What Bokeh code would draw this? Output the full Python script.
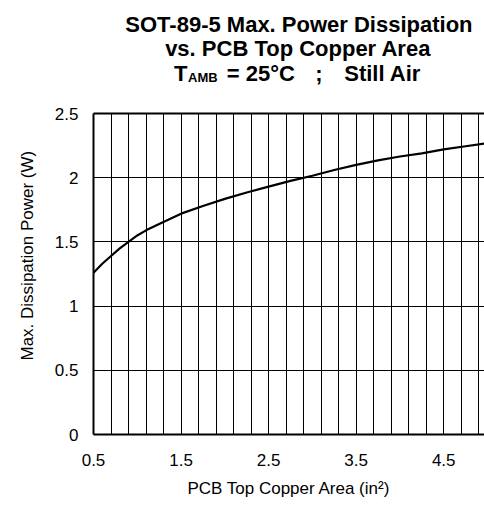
from bokeh.plotting import figure
from bokeh.models import Range1d, FixedTicker, LinearAxis, Title
from bokeh.layouts import column
from bokeh.core.properties import value
from bokeh.embed import file_html
from bokeh.resources import INLINE

# ---- data ----
area = [0.5, 0.6, 0.7, 0.8, 0.9, 1.0, 1.1, 1.25, 1.5, 1.75, 2.0, 2.25, 2.5,
        2.75, 3.0, 3.25, 3.5, 3.75, 4.0, 4.25, 4.5, 4.75, 5.0]
power = [1.26, 1.33, 1.39, 1.45, 1.50, 1.55, 1.59, 1.64, 1.72, 1.78, 1.835,
         1.885, 1.93, 1.975, 2.015, 2.06, 2.10, 2.135, 2.165, 2.19, 2.22,
         2.245, 2.27]
x_ticks = [0.5, 1.5, 2.5, 3.5, 4.5]
x_minor = [0.7, 0.9, 1.1, 1.3, 1.7, 1.9, 2.1, 2.3, 2.7, 2.9, 3.1, 3.3,
           3.7, 3.9, 4.1, 4.3, 4.7, 4.9]
y_ticks = [0, 0.5, 1, 1.5, 2, 2.5]

title_lines = ["SOT-89-5 Max. Power Dissipation", "vs. PCB Top Copper Area"]
title_line3 = ["T", "= 25\u00b0C", ";", "Still Air"]
title_sub = "AMB"
x_label = "PCB Top Copper Area (in\u00b2)"
y_label = "Max. Dissipation Power (W)"

FONT = "Liberation Sans"
TITLE_H = 100
LEFT = 91

# ---- title block (page pixel coordinates, y downwards) ----
t = figure(width=484, height=TITLE_H, output_backend="svg", toolbar_location=None,
           x_range=Range1d(LEFT, 484), y_range=Range1d(TITLE_H, 0),
           x_axis_type=None, y_axis_type=None,
           min_border_left=LEFT, min_border_right=0,
           min_border_top=0, min_border_bottom=0)
t.title.visible = False
t.outline_line_color = None
t.grid.visible = False
t.text(x=[123, 163], y=[24, 48], text=title_lines, text_font=value(FONT),
       text_font_size=value("22px"), text_font_style="bold",
       text_align="left", text_baseline="alphabetic", text_color="black")
t.text(x=[172, 225, 314, 343], y=[73, 73, 73, 73], text=title_line3,
       text_font=value(FONT), text_font_size=value("22px"),
       text_font_style="bold", text_align="left",
       text_baseline="alphabetic", text_color="black")
t.text(x=[186], y=[77], text=[title_sub], text_font=value(FONT),
       text_font_size=value("13px"), text_font_style="bold",
       text_align="left", text_baseline="alphabetic", text_color="black")

# ---- main chart ----
p = figure(width=484, height=505 - TITLE_H, output_backend="svg",
           toolbar_location=None,
           x_range=Range1d(0.5, 4.966), y_range=Range1d(0, 2.5),
           min_border_left=LEFT, min_border_top=113 - TITLE_H,
           min_border_bottom=71, min_border_right=0)
p.outline_line_color = None

p.line(area, power, line_color="black", line_width=2.2)

xa = p.xaxis[0]
xa.ticker = FixedTicker(ticks=x_ticks, minor_ticks=x_minor)
xa.axis_line_width = 2
xa.axis_line_color = "black"
xa.major_tick_line_color = None
xa.minor_tick_line_color = None
xa.major_tick_out = 0
xa.major_label_standoff = 15
xa.major_label_text_font = FONT
xa.major_label_text_font_size = "17px"
xa.major_label_text_color = "black"
xa.axis_label = x_label
xa.axis_label_text_font = FONT
xa.axis_label_text_font_size = "17px"
xa.axis_label_text_font_style = "normal"
xa.axis_label_text_color = "black"
xa.axis_label_standoff = 10

ya = p.yaxis[0]
ya.ticker = FixedTicker(ticks=y_ticks)
ya.axis_line_width = 2
ya.axis_line_color = "black"
ya.major_tick_line_color = None
ya.minor_tick_line_color = None
ya.major_tick_out = 0
ya.major_label_standoff = 15
ya.major_label_text_font = FONT
ya.major_label_text_font_size = "17px"
ya.major_label_text_color = "black"

top = LinearAxis(ticker=FixedTicker(ticks=[]), axis_line_width=2,
                 axis_line_color="black", major_tick_line_color=None,
                 minor_tick_line_color=None, major_label_text_font_size="0px")
p.add_layout(top, "above")

p.add_layout(Title(text=y_label, align="left", offset=74, standoff=30,
                   text_font=FONT, text_font_size="17px",
                   text_font_style="normal", text_color="black"), "left")

p.xgrid.grid_line_color = "black"
p.xgrid.grid_line_width = 1
p.xgrid.minor_grid_line_color = "black"
p.xgrid.minor_grid_line_width = 1
p.ygrid.grid_line_color = "black"
p.ygrid.grid_line_width = 1

layout = column(t, p, spacing=0)
open("out.html", "w").write(file_html(layout, INLINE))
